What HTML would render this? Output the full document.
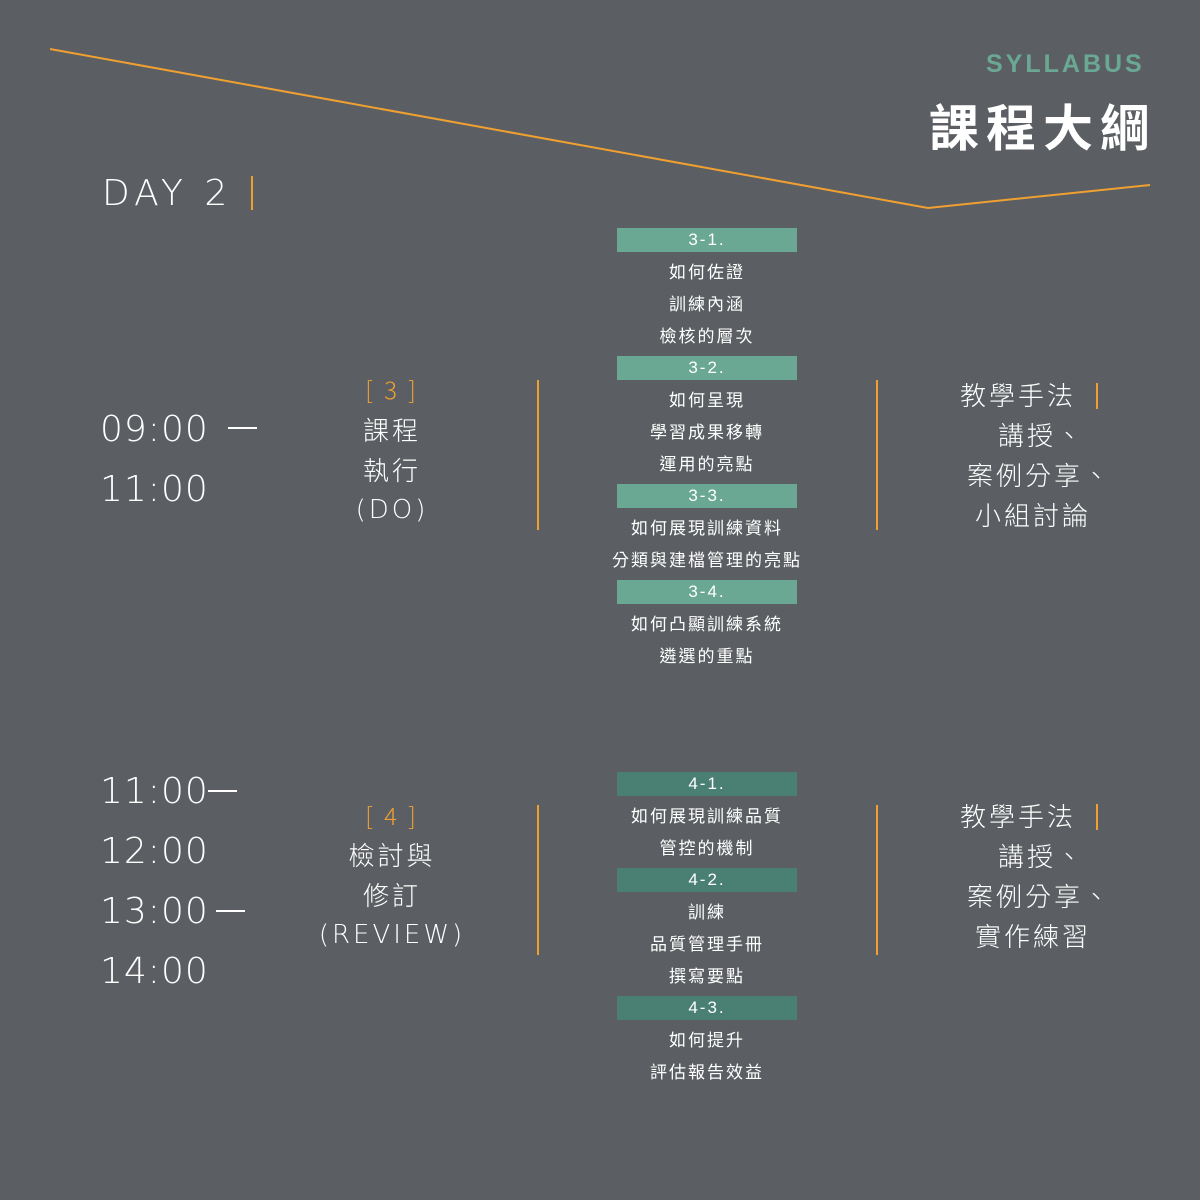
<!DOCTYPE html>
<html><head><meta charset="utf-8"><style>
body{margin:0;width:1200px;height:1200px;background:#5b5f63;overflow:hidden;position:relative;font-family:"Liberation Sans","Noto Sans CJK TC",sans-serif;color:#fff}
.a{position:absolute;white-space:nowrap;line-height:1}
.t{font-family:"DejaVu Sans","Liberation Sans",sans-serif;font-weight:200;font-size:36px;letter-spacing:1px;left:100px}
.m{left:607px;width:200px;text-align:center;font-size:17px;letter-spacing:2px;font-family:"Noto Sans CJK TC",sans-serif}
.b{position:absolute;left:617px;width:180px;height:24px;background:#6aa893;color:#fff;text-align:center;font-size:17px;line-height:24px;letter-spacing:2px}
.b4{background:#4a7f74}
.c{left:292px;width:200px;text-align:center;font-size:26px;letter-spacing:3px;font-family:"Noto Sans CJK TC",sans-serif;font-weight:300}
.r{font-size:26px;letter-spacing:3px;font-family:"Noto Sans CJK TC",sans-serif;font-weight:300}
.o{color:#f0a030}
.v{position:absolute;width:2px;background:#f0a030}
</style></head><body>
<svg width="1200" height="1200" style="position:absolute;left:0;top:0">
<polyline points="50,49 928,208 1150,185" fill="none" stroke="#f0a030" stroke-width="2"/>
<line x1="228" y1="428" x2="257" y2="428" stroke="#fff" stroke-width="2"/>
<line x1="208" y1="791" x2="237" y2="791" stroke="#fff" stroke-width="2"/>
<line x1="216" y1="911" x2="245" y2="911" stroke="#fff" stroke-width="2"/>
</svg>
<div class="a" style="left:986px;top:52px;font-size:25px;font-weight:bold;letter-spacing:3px;color:#6aa893">SYLLABUS</div>
<div class="a" style="left:929px;top:100px;font-size:50px;font-weight:bold;letter-spacing:7px;font-family:'Noto Sans CJK TC',sans-serif">課程大綱</div>
<div class="a" style="left:102px;top:176px;font-size:36px;letter-spacing:5px;font-family:'DejaVu Sans',sans-serif;font-weight:200">DAY 2</div>
<div class="v" style="left:251px;top:176px;height:34px"></div>

<div class="a t" style="top:412px">09:00</div>
<div class="a t" style="top:472px">11:00</div>
<div class="a t" style="top:774px">11:00</div>
<div class="a t" style="top:834px">12:00</div>
<div class="a t" style="top:894px">13:00</div>
<div class="a t" style="top:954px">14:00</div>

<div class="a c o" style="top:377px;font-size:24px">[ 3 ]</div>
<div class="a c" style="top:417px">課程</div>
<div class="a c" style="top:457px">執行</div>
<div class="a c" style="top:497px;font-family:'DejaVu Sans',sans-serif;font-weight:200">(DO)</div>
<div class="a c o" style="top:803px;font-size:24px">[ 4 ]</div>
<div class="a c" style="top:842px">檢討與</div>
<div class="a c" style="top:882px">修訂</div>
<div class="a c" style="top:922px;font-family:'DejaVu Sans',sans-serif;font-weight:200">(REVIEW)</div>

<div class="v" style="left:537px;top:380px;height:150px"></div>
<div class="v" style="left:876px;top:380px;height:150px"></div>
<div class="v" style="left:537px;top:805px;height:150px"></div>
<div class="v" style="left:876px;top:805px;height:150px"></div>

<div class="b" style="top:228px">3-1.</div>
<div class="a m" style="top:262px">如何佐證</div>
<div class="a m" style="top:294px">訓練內涵</div>
<div class="a m" style="top:326px">檢核的層次</div>
<div class="b" style="top:356px">3-2.</div>
<div class="a m" style="top:390px">如何呈現</div>
<div class="a m" style="top:422px">學習成果移轉</div>
<div class="a m" style="top:454px">運用的亮點</div>
<div class="b" style="top:484px">3-3.</div>
<div class="a m" style="top:518px">如何展現訓練資料</div>
<div class="a m" style="top:550px">分類與建檔管理的亮點</div>
<div class="b" style="top:580px">3-4.</div>
<div class="a m" style="top:614px">如何凸顯訓練系統</div>
<div class="a m" style="top:646px">遴選的重點</div>

<div class="b b4" style="top:772px">4-1.</div>
<div class="a m" style="top:806px">如何展現訓練品質</div>
<div class="a m" style="top:838px">管控的機制</div>
<div class="b b4" style="top:868px">4-2.</div>
<div class="a m" style="top:902px">訓練</div>
<div class="a m" style="top:934px">品質管理手冊</div>
<div class="a m" style="top:966px">撰寫要點</div>
<div class="b b4" style="top:996px">4-3.</div>
<div class="a m" style="top:1030px">如何提升</div>
<div class="a m" style="top:1062px">評估報告效益</div>

<div class="a r" style="left:960px;top:382px">教學手法</div>
<div class="v" style="left:1096px;top:383px;height:26px"></div>
<div class="a r" style="left:998px;top:422px">講授、</div>
<div class="a r" style="left:967px;top:462px">案例分享、</div>
<div class="a r" style="left:975px;top:502px">小組討論</div>
<div class="a r" style="left:960px;top:803px">教學手法</div>
<div class="v" style="left:1096px;top:804px;height:26px"></div>
<div class="a r" style="left:998px;top:843px">講授、</div>
<div class="a r" style="left:967px;top:883px">案例分享、</div>
<div class="a r" style="left:975px;top:923px">實作練習</div>
</body></html>
